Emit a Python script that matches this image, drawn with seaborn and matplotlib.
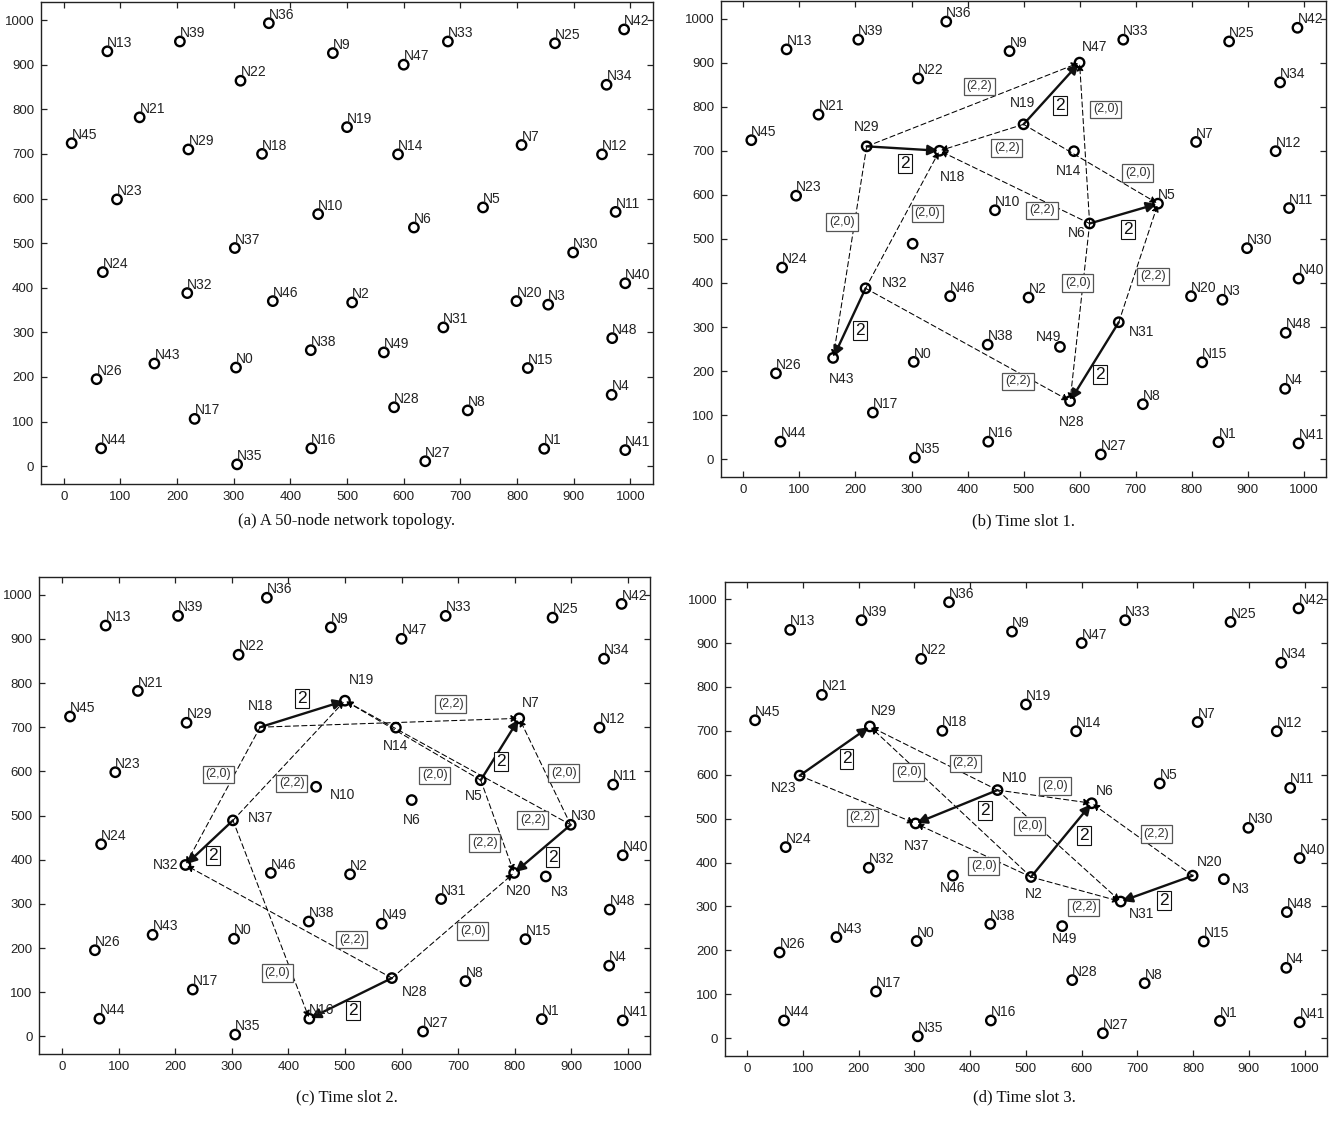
import matplotlib
matplotlib.use('Agg')
import matplotlib.pyplot as plt
import pandas as pd
import seaborn as sns

# node positions, N0 .. N49
node_x = [304, 848, 509, 855, 967, 740, 618, 808, 713, 475,
          449, 974, 950, 77, 590, 819, 437, 231, 350, 500,
          799, 134, 312, 94, 69, 867, 58, 638, 583, 220,
          899, 670, 218, 678, 958, 306, 362, 302, 436, 205,
          991, 991, 989, 160, 66, 14, 369, 600, 968, 565]
node_y = [221, 39, 367, 362, 160, 580, 535, 720, 125, 926,
          565, 570, 699, 930, 699, 220, 40, 106, 700, 760,
          370, 782, 864, 598, 435, 948, 195, 11, 132, 710,
          479, 311, 388, 952, 855, 4, 993, 489, 260, 952,
          410, 36, 979, 230, 40, 724, 370, 900, 287, 255]
node_names = ['N%d' % i for i in range(len(node_x))]
nodes = pd.DataFrame({'name': node_names, 'x': node_x, 'y': node_y})

# scheduled links (transmitter, receiver), weight 2
slot1_links = [(32, 43), (29, 18), (19, 47), (6, 5), (31, 28)]
slot2_links = [(18, 19), (37, 32), (5, 7), (30, 20), (28, 16)]
slot3_links = [(23, 29), (10, 37), (2, 6), (20, 31)]

# interference (transmitter, receiver, tag)
slot1_interf = [(29, 47, '(2,2)'), (6, 47, '(2,0)'), (19, 18, '(2,2)'),
                (19, 5, '(2,0)'), (32, 18, '(2,0)'), (6, 18, '(2,2)'),
                (29, 43, '(2,0)'), (31, 5, '(2,2)'), (6, 28, '(2,0)'),
                (32, 28, '(2,2)')]
slot2_interf = [(18, 32, '(2,0)'), (37, 19, '(2,2)'), (18, 7, '(2,2)'),
                (5, 19, '(2,0)'), (30, 7, '(2,0)'), (30, 19, '(2,2)'),
                (5, 20, '(2,2)'), (28, 32, '(2,2)'), (28, 20, '(2,0)'),
                (37, 16, '(2,0)')]
slot3_interf = [(10, 29, '(2,2)'), (2, 29, '(2,0)'), (23, 37, '(2,2)'),
                (2, 37, '(2,0)'), (10, 31, '(2,0)'), (10, 6, '(2,0)'),
                (20, 6, '(2,2)'), (2, 31, '(2,2)')]

link_weight = '2'

# where the tags sit (layout only)
tag_pos = {
    1: {(29, 47): (421, 846), (6, 47): (647, 794), (19, 18): (470, 706),
        (19, 5): (704, 649), (32, 18): (328, 558), (6, 18): (533, 565),
        (29, 43): (176, 538), (31, 5): (731, 415), (6, 28): (597, 400),
        (32, 28): (490, 177),
        (32, 43): (208, 293), (29, 18): (289, 672), (19, 47): (565, 803),
        (6, 5): (686, 522), (31, 28): (636, 193)},
    2: {(18, 32): (276, 593), (37, 19): (406, 573), (18, 7): (687, 752),
        (5, 19): (659, 591), (30, 7): (887, 596), (30, 19): (832, 490),
        (5, 20): (747, 438), (28, 32): (512, 219), (28, 20): (726, 239),
        (37, 16): (380, 144),
        (18, 19): (424, 765), (37, 32): (267, 409), (5, 7): (776, 623),
        (30, 20): (867, 406), (28, 16): (514, 59)},
    3: {(10, 29): (391, 626), (2, 29): (290, 606), (23, 37): (206, 503),
        (2, 37): (424, 392), (10, 31): (507, 483), (10, 6): (552, 574),
        (20, 6): (734, 465), (2, 31): (604, 298),
        (23, 29): (178, 636), (10, 37): (427, 519), (2, 6): (604, 462),
        (20, 31): (748, 314)},
}

# node label offsets (points) that differ from the default upper right
name_offsets = {
    0: {},
    1: {29: (0, 9, 'center', 'bottom'), 18: (0, -14, 'left', 'top'),
        37: (5, -6, 'left', 'top'), 47: (2, 6, 'left', 'bottom'),
        19: (-1, 10, 'center', 'bottom'), 14: (-4, -9, 'center', 'top'),
        6: (-3, -2, 'right', 'top'), 43: (6, -10, 'center', 'top'),
        32: (12, 4, 'left', 'center'), 28: (1, -10, 'center', 'top'),
        31: (7, -2, 'left', 'top'), 49: (1, 2, 'right', 'bottom')},
    2: {18: (0, 10, 'center', 'bottom'), 19: (3, 10, 'left', 'bottom'),
        14: (0, -8, 'center', 'top'), 37: (11, 2, 'left', 'center'),
        10: (10, -6, 'left', 'center'), 6: (0, -9, 'center', 'top'),
        5: (1, -6, 'right', 'top'), 32: (-5, 0, 'right', 'center'),
        7: (2, 6, 'left', 'bottom'), 28: (7, -5, 'left', 'top'),
        20: (3, -8, 'center', 'top'), 3: (4, -6, 'left', 'top')},
    3: {29: (1, 6, 'left', 'bottom'), 23: (-2, -4, 'right', 'top'),
        10: (3, 4, 'left', 'bottom'), 37: (1, -11, 'center', 'top'),
        46: (0, -4, 'center', 'top'), 2: (2, -7, 'center', 'top'),
        6: (3, 4, 'left', 'bottom'), 20: (3, 5, 'left', 'bottom'),
        3: (6, -2, 'left', 'top'), 31: (6, -4, 'left', 'top'),
        49: (2, -4, 'center', 'top')},
}

captions = ['(a) A 50-node network topology.', '(b) Time slot 1.',
            '(c) Time slot 2.', '(d) Time slot 3.']

sns.set_theme(style='ticks')
plt.rcParams['font.family'] = ['Liberation Sans', 'DejaVu Sans']

fig = plt.figure(figsize=(13.42, 11.23), dpi=100)
boxes = [[0.0306, 0.569, 0.456, 0.429],
         [0.5373, 0.5753, 0.4508, 0.4239],
         [0.0294, 0.0614, 0.4553, 0.4248],
         [0.5402, 0.0600, 0.4486, 0.4221]]
cap_xy = [(0.2585, 0.536), (0.763, 0.536), (0.2585, 0.023), (0.763, 0.023)]
slots = [(None, None), (slot1_links, slot1_interf),
         (slot2_links, slot2_interf), (slot3_links, slot3_interf)]


def draw(ax, k, links, interf):
    sns.scatterplot(data=nodes, x='x', y='y', ax=ax, marker='o', s=46,
                    color='black', facecolor='none', edgecolor='black',
                    linewidth=1.7, zorder=4)
    offs = name_offsets[k]
    for i, row in nodes.iterrows():
        dx, dy, ha, va = offs.get(i, (0, 1, 'left', 'bottom'))
        ax.annotate(row['name'], (row['x'], row['y']), xytext=(dx, dy),
                    textcoords='offset points', ha=ha, va=va,
                    fontsize=10, color='#222222', zorder=6)
    if links is None:
        return
    for tx, rx, tag in interf:
        ax.annotate('', xy=(node_x[rx], node_y[rx]),
                    xytext=(node_x[tx], node_y[tx]),
                    arrowprops=dict(arrowstyle='-|>', color='black', lw=0.75,
                                    linestyle=(0, (5, 3)), mutation_scale=10,
                                    shrinkA=0, shrinkB=1), zorder=2)
        px, py = tag_pos[k][(tx, rx)]
        ax.text(px, py, tag, ha='center', va='center', fontsize=9,
                color='#333333', zorder=7,
                bbox=dict(boxstyle='square,pad=0.22', fc='white',
                          ec='#555555', lw=0.9))
    for tx, rx in links:
        ax.annotate('', xy=(node_x[rx], node_y[rx]),
                    xytext=(node_x[tx], node_y[tx]),
                    arrowprops=dict(arrowstyle='-|>', color='#111111', lw=1.7,
                                    mutation_scale=15, shrinkA=0, shrinkB=1),
                    zorder=3)
        px, py = tag_pos[k][(tx, rx)]
        ax.text(px, py, link_weight, ha='center', va='center', fontsize=12.5,
                color='#111111', zorder=7,
                bbox=dict(boxstyle='square,pad=0.12', fc='white',
                          ec='#111111', lw=0.8))


for k in range(4):
    ax = fig.add_axes(boxes[k])
    links, interf = slots[k]
    draw(ax, k, links, interf)
    ax.set_xlim(-40, 1040)
    ax.set_ylim(-40, 1040)
    ax.set_xticks(range(0, 1001, 100))
    ax.set_yticks(range(0, 1001, 100))
    ax.set_xlabel('')
    ax.set_ylabel('')
    ax.tick_params(direction='in', top=True, right=True, length=4,
                   width=0.9, labelsize=9.5, pad=5, colors='#222222')
    for sp in ax.spines.values():
        sp.set_visible(True)
        sp.set_linewidth(1.0)
        sp.set_color('#222222')
    fig.text(cap_xy[k][0], cap_xy[k][1], captions[k], ha='center',
             va='center', fontsize=12, family='Liberation Serif',
             color='#111111')

fig.savefig('out.png', dpi=100)
